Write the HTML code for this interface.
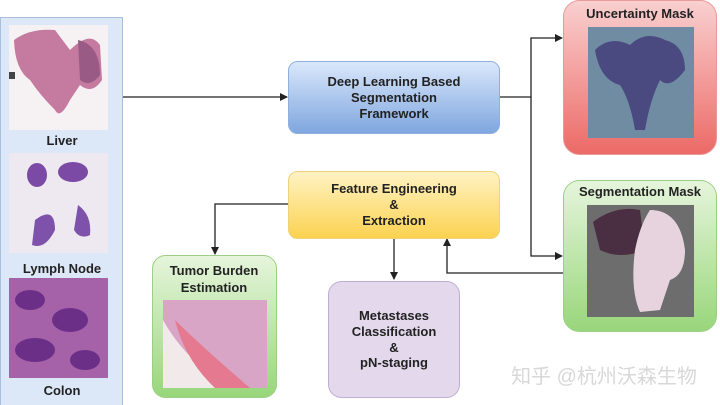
<!DOCTYPE html>
<html><head><meta charset="utf-8"><style>
html,body{margin:0;padding:0;background:#fff;}
svg{display:block;}
text{font-family:"Liberation Sans",Arial,sans-serif;font-weight:bold;font-size:13px;fill:#222;text-anchor:middle;}
</style></head><body>
<svg width="720" height="405" viewBox="0 0 720 405" xmlns="http://www.w3.org/2000/svg">
<defs>
<linearGradient id="gb" x1="0" y1="0" x2="0" y2="1"><stop offset="0" stop-color="#dbe8fb"/><stop offset="1" stop-color="#7ea6df"/></linearGradient>
<linearGradient id="gy" x1="0" y1="0" x2="0" y2="1"><stop offset="0" stop-color="#fff3c4"/><stop offset="1" stop-color="#fbd250"/></linearGradient>
<linearGradient id="gr" x1="0" y1="0" x2="0" y2="1"><stop offset="0" stop-color="#f9d0d0"/><stop offset="1" stop-color="#ec6a66"/></linearGradient>
<linearGradient id="gg" x1="0" y1="0" x2="0" y2="1"><stop offset="0" stop-color="#e6f5dc"/><stop offset="1" stop-color="#98d67a"/></linearGradient>
<marker id="ah" markerWidth="8" markerHeight="8" refX="7" refY="4" orient="auto" markerUnits="userSpaceOnUse"><path d="M0,0 L8,4 L0,8 Z" fill="#222"/></marker>
</defs>
<rect x="0.5" y="17.5" width="122" height="390" fill="#dce8f7" stroke="#a9c0dd"/>
<rect x="9" y="25" width="99" height="105" fill="#f6f2f3"/>
<path d="M14,40 Q30,28 55,30 L70,50 Q90,30 100,45 L102,80 Q92,95 80,85 L70,100 Q60,120 55,110 Q40,95 30,80 Q15,70 14,40Z" fill="#c57aa0"/>
<path d="M78,40 Q100,45 100,75 Q90,88 80,80 Z" fill="#9a5a86"/>
<rect x="9" y="72" width="6" height="7" fill="#444"/>
<text x="62" y="145">Liver</text>
<rect x="9" y="153" width="99" height="100" fill="#eee8f0"/>
<ellipse cx="37" cy="175" rx="10" ry="12" fill="#7b4aa5"/>
<ellipse cx="73" cy="172" rx="15" ry="10" fill="#7b4aa5"/>
<path d="M35,220 Q55,205 55,230 Q45,250 32,245Z" fill="#7e52ab"/>
<path d="M78,205 Q92,215 90,235 Q80,240 74,230Z" fill="#7e52ab"/>
<text x="62" y="273">Lymph Node</text>
<rect x="9" y="278" width="99" height="100" fill="#a562a8"/>
<g fill="#6c2f88"><ellipse cx="30" cy="300" rx="15" ry="10"/><ellipse cx="70" cy="320" rx="18" ry="12"/><ellipse cx="35" cy="350" rx="20" ry="12"/><ellipse cx="85" cy="360" rx="15" ry="10"/></g>
<text x="62" y="395">Colon</text>
<g stroke="#222" stroke-width="1.3" fill="none">
<line x1="123" y1="97" x2="287" y2="97" marker-end="url(#ah)"/>
<polyline points="500,97 531,97 531,38 562,38" marker-end="url(#ah)"/>
<polyline points="531,97 531,256 562,256" marker-end="url(#ah)"/>
<polyline points="563,273 447,273 447,239" marker-end="url(#ah)"/>
<polyline points="288,204 215,204 215,254" marker-end="url(#ah)"/>
<line x1="394" y1="238" x2="394" y2="279" marker-end="url(#ah)"/>
</g>
<rect x="288.5" y="61.5" width="211" height="72" rx="9" fill="url(#gb)" stroke="#8fb0df"/>
<text x="394" y="86">Deep Learning Based</text>
<text x="394" y="102">Segmentation</text>
<text x="394" y="118">Framework</text>
<rect x="288.5" y="171.5" width="211" height="67" rx="9" fill="url(#gy)" stroke="#eed27a"/>
<text x="394" y="193">Feature Engineering</text>
<text x="394" y="209">&amp;</text>
<text x="394" y="225">Extraction</text>
<rect x="563.5" y="0.5" width="153" height="154" rx="16" fill="url(#gr)" stroke="#e89a98"/>
<text x="640" y="18">Uncertainty Mask</text>
<rect x="588" y="27" width="106" height="111" fill="#6f8ca3"/>
<path d="M595,50 Q610,35 630,45 Q645,30 665,40 Q685,45 685,70 Q670,90 660,80 Q650,100 645,130 L635,130 Q630,100 620,85 Q600,80 595,50Z" fill="#4b4a80"/>
<rect x="563.5" y="180.5" width="153" height="151" rx="16" fill="url(#gg)" stroke="#9ccf86"/>
<text x="640" y="196">Segmentation Mask</text>
<rect x="587" y="205" width="107" height="112" fill="#6d6d6d"/>
<path d="M593,222 Q615,205 640,210 L645,250 Q620,260 600,250Z" fill="#4a2f42"/>
<path d="M650,210 Q680,210 685,250 Q685,275 670,280 L660,310 L640,312 Q630,290 635,250 Q640,225 650,210Z" fill="#e6d3de"/>
<rect x="152.5" y="255.5" width="124" height="142" rx="13" fill="url(#gg)" stroke="#9ccf86"/>
<text x="214" y="275">Tumor Burden</text>
<text x="214" y="292">Estimation</text>
<rect x="163" y="300" width="104" height="88" fill="#d9a5c6"/>
<path d="M163,320 Q185,360 230,388 L163,388Z" fill="#f2eaea"/>
<path d="M175,320 Q200,345 250,388 L215,388 Q185,360 175,320Z" fill="#e5798f"/>
<rect x="328.5" y="281.5" width="131" height="116" rx="13" fill="#e3d8ec" stroke="#bfaed1"/>
<text x="394" y="320">Metastases</text>
<text x="394" y="336">Classification</text>
<text x="394" y="352">&amp;</text>
<text x="394" y="367">pN-staging</text>
<text x="604" y="383" style="font-family:'Liberation Sans','Noto Sans CJK SC',sans-serif;font-weight:normal;font-size:20px;fill:#d8d8d8;">知乎 @杭州沃森生物</text>
</svg>
</body></html>
